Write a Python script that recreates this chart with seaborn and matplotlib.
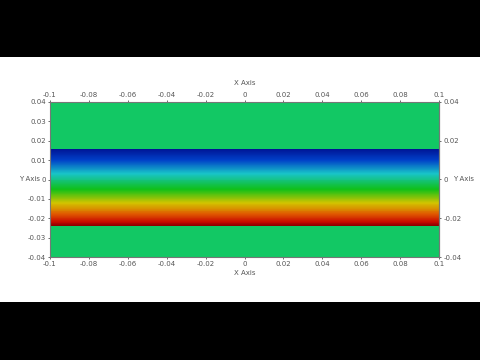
import numpy as np
import pandas as pd
import matplotlib
matplotlib.use("Agg")
import matplotlib.pyplot as plt
from matplotlib.colors import LinearSegmentedColormap
from matplotlib.patches import Rectangle
import seaborn as sns

# ---- data ----
x_range = [-0.1, 0.1]
y_range = [-0.04, 0.04]
band_bottom = -0.024
band_top = 0.016
x_ticks = [-0.1, -0.08, -0.06, -0.04, -0.02, 0, 0.02, 0.04, 0.06, 0.08, 0.1]
y_ticks_left = [-0.04, -0.03, -0.02, -0.01, 0, 0.01, 0.02, 0.03, 0.04]
y_ticks_right = [-0.04, -0.02, 0, 0.02, 0.04]
# colour stops of the field colormap (low value -> high value)
cmap_pos = [0.0, 0.05, 0.15, 0.30, 0.47, 0.68, 0.85, 1.0]
cmap_colors = ["#8a0000", "#c80a00", "#e05a00", "#d2c400", "#10c018",
               "#18c4c8", "#0040c8", "#001090"]
background_color = "#12c864"

sns.set_theme(style="white")
plt.rcParams['font.family'] = ['DejaVu Sans']

cmap = LinearSegmentedColormap.from_list("field", list(zip(cmap_pos, cmap_colors)))

# field sampled on the domain (value = y inside the band, empty outside)
dy = 0.0005
rows = np.arange(y_range[1] - dy / 2, y_range[0], -dy)
cols = np.linspace(x_range[0], x_range[1], 4)
vals = np.where((rows[:, None] <= band_top) & (rows[:, None] >= band_bottom),
                rows[:, None] * np.ones((1, cols.size)), np.nan)
df = pd.DataFrame(vals, index=rows, columns=cols)

fig = plt.figure(figsize=(4.8, 3.6), dpi=100)
fig.patch.set_facecolor("white")
for (y0, y1) in [(0, 57), (302, 360)]:
    fig.add_artist(Rectangle((0, 1 - y1 / 360), 1, (y1 - y0) / 360,
                             transform=fig.transFigure, facecolor="black",
                             edgecolor="none", zorder=-5))

rect = [50 / 480, 1 - 257 / 360, 389 / 480, 155 / 360]
ax = fig.add_axes(rect)
ax.set_facecolor(background_color)
sns.heatmap(df, ax=ax, cmap=cmap, vmin=band_bottom, vmax=band_top, cbar=False,
            xticklabels=False, yticklabels=False, mask=np.isnan(vals))
ax.set_xlabel("")
ax.set_ylabel("")
for s in ax.spines.values():
    s.set_visible(False)

ax2 = fig.add_axes(rect, facecolor="none")
ax2.set_xlim(*x_range)
ax2.set_ylim(*y_range)
fmt = lambda v, p=None: f"{round(v, 3) + 0.0:g}"
tc = "#555555"
ax2.set_xticks(x_ticks)
ax2.set_yticks(y_ticks_left)
ax2.xaxis.set_major_formatter(fmt)
ax2.yaxis.set_major_formatter(fmt)
ax2.tick_params(axis="x", top=True, labeltop=True, bottom=True, labelbottom=True,
                length=1.5, width=0.6, pad=1.5, labelsize=5, colors=tc)
ax2.tick_params(axis="y", left=True, labelleft=True, right=False,
                length=1.5, width=0.6, pad=1.5, labelsize=5, colors=tc)
sec = ax2.secondary_yaxis("right")
sec.set_yticks(y_ticks_right)
sec.yaxis.set_major_formatter(fmt)
sec.tick_params(length=1.5, width=0.6, pad=1.5, labelsize=5, colors=tc)
for sp in list(ax2.spines.values()) + list(sec.spines.values()):
    sp.set_color("#777777")
    sp.set_linewidth(0.8)

ax2.set_xlabel("X Axis", fontsize=5, color=tc, labelpad=2)
fig.text((50 + 194.5) / 480, 1 - 83 / 360, "X Axis", fontsize=5, color=tc,
         ha="center", va="center")
fig.text(19 / 480, 1 - 179 / 360, "Y Axis", fontsize=5, color=tc,
         ha="left", va="center")
fig.text(453 / 480, 1 - 179 / 360, "Y Axis", fontsize=5, color=tc,
         ha="left", va="center")

fig.savefig("out.png", dpi=100, facecolor=fig.get_facecolor())
